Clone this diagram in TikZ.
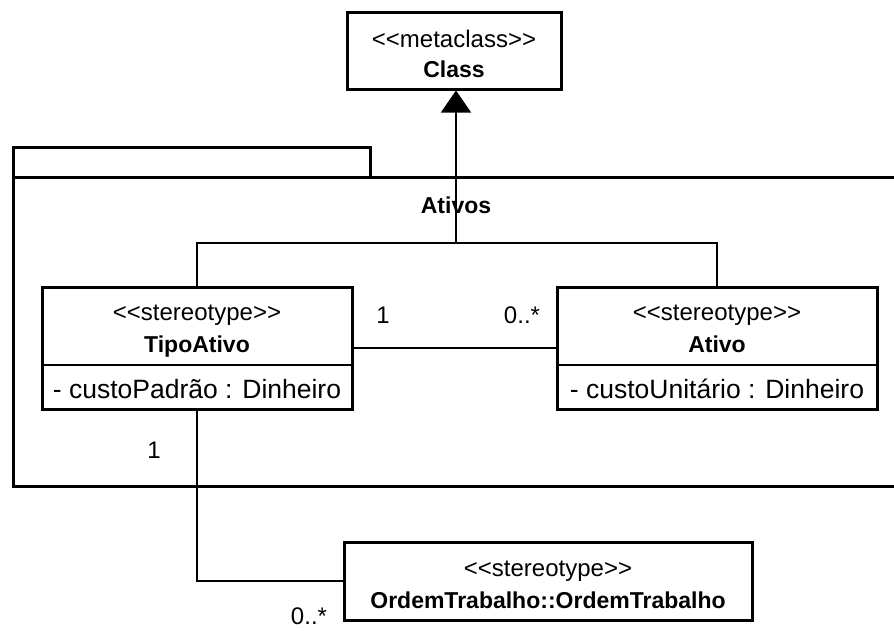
\documentclass[tikz,border=0pt]{standalone}
\usepackage{fontspec}
\setmainfont{Liberation Sans}[Ligatures=TeXOff]
\usetikzlibrary{arrows.meta}
\begin{document}
\begin{tikzpicture}[x=1pt,y=-1pt,
  box/.style={draw, line width=3pt, fill=white, inner sep=0pt},
  pkg/.style={line width=3pt},
  conn/.style={line width=1.5pt},
  gen/.style={conn, -{Triangle[width=30pt,length=22pt]}},
  txt/.style={inner sep=0pt, anchor=base, font=\fontsize{24}{28}\selectfont},
  attr/.style={inner sep=0pt, anchor=base, font=\fontsize{26.5}{30}\selectfont},
  cname/.style={inner sep=0pt, anchor=base, font=\fontsize{23}{28}\selectfont\bfseries},
]
\useasboundingbox (0,0) rectangle (894,630);

% package "Ativos": tab and body (body runs past the right edge)
\draw[pkg] (13,177) -- (13,147) -- (370,147) -- (370,177);
\draw[pkg] (900,177) -- (13,177) -- (13,486) -- (900,486);
\node[cname] (pkgname) at (456,213) {Ativos};

% classes
\node[box, minimum width=214pt, minimum height=77pt] (cls) at (454,50.5) {};
\node[txt] (clsst) at (454,47) {<\kern0pt<metaclass>\kern0pt>};
\node[cname] (clsnm) at (454,77) {Class};

\node[box, minimum width=310pt, minimum height=122pt] (tipo) at (197,348) {};
\draw[conn] (42,365) -- (352,365);
\node[txt] (tipost) at (197,320) {<\kern0pt<stereotype>\kern0pt>};
\node[cname] (tiponm) at (197,352) {TipoAtivo};
\node[attr] (tipoat) at (197,398) {- custoPadrão : Dinheiro};

\node[box, minimum width=320pt, minimum height=122pt] (ativo) at (717,348) {};
\draw[conn] (557,365) -- (877,365);
\node[txt] (ativost) at (717,320) {<\kern0pt<stereotype>\kern0pt>};
\node[cname] (ativonm) at (717,352) {Ativo};
\node[attr] (ativoat) at (717,398) {- custoUnitário : Dinheiro};

\node[box, minimum width=408pt, minimum height=78pt] (ordem) at (548,581) {};
\node[txt] (ordemst) at (548,576) {<\kern0pt<stereotype>\kern0pt>};
\node[cname] (ordemnm) at (548,608) {OrdemTrabalho::OrdemTrabalho};

% generalization tree
\coordinate (j) at (456,243);
\draw[conn] (tipo.north) |- (j) -| (ativo.north);
\draw[gen] (j) -- (cls.south -| j);

% associations
\draw[conn] (tipo.east) -- (ativo.west);
\draw[conn] (tipo.south) |- (ordem.west);

% multiplicities
\node[txt] (m1) at (383,323) {1};
\node[txt] (m2) at (522,323) {0..*};
\node[txt] (m3) at (154,458) {1};
\node[txt] (m4) at (309,624) {0..*};
\end{tikzpicture}
\end{document}
